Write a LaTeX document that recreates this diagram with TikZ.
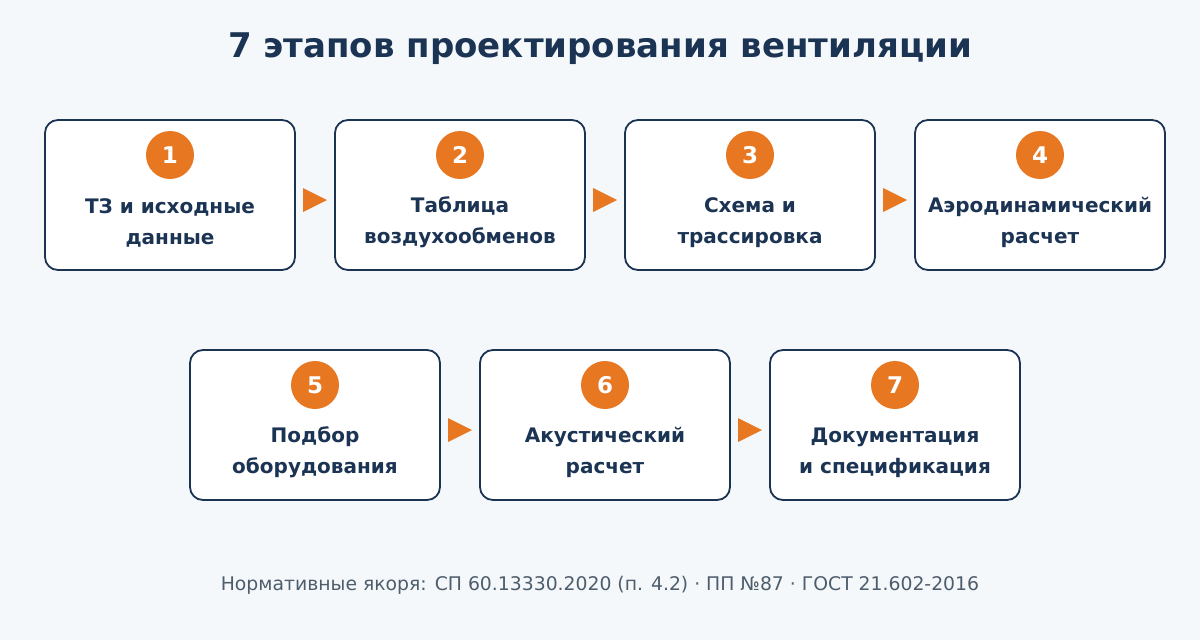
\documentclass[tikz,border=0pt]{standalone}
\usepackage{fontspec}
\setmainfont{DejaVu Sans}
\usetikzlibrary{calc}
\definecolor{bg}{HTML}{F5F8FB}
\definecolor{navy}{HTML}{1C3453}
\definecolor{accent}{HTML}{E87722}
\definecolor{foot}{HTML}{4E5D6C}
\tikzset{
  stage/.style={draw=navy, line width=1.8, fill=white, rounded corners=13,
    minimum width=250, minimum height=150, inner sep=0, outer sep=0},
  badge/.style={circle, fill=accent, minimum size=48, inner sep=0,
    text=white, font=\bfseries\fontsize{23}{23}\selectfont},
  label/.style={align=center, text=navy, font=\bfseries\fontsize{20}{31}\selectfont},
  tri/.style={fill=accent},
}
\newcommand{\stagebox}[5]{%
  \node[stage] (b#1) at (#2,#3) {};
  \node[badge] (n#1) at (#2,#3-40) {#1};
  \node[label] (t#1) at (#2,#3+27.5) {#4\\#5};
}
\newcommand{\tri}[2]{%
  \fill[tri] ($(b#1.east)!0.5!(b#2.west)+(-12,-7)$) -- ++(24,12) -- ++(-24,12) -- cycle;
}
\begin{document}
\begin{tikzpicture}[x=1pt,y=-1pt]
\fill[bg] (0,0) rectangle (1200,640);
\useasboundingbox (0,0) rectangle (1200,640);
\node[text=navy, font=\bfseries\fontsize{34}{34}\selectfont] (title) at (600,49) {7 этапов проектирования вентиляции};
\stagebox{1}{170}{195}{ТЗ и исходные}{данные}
\stagebox{2}{460}{195}{Таблица}{воздухообменов}
\stagebox{3}{750}{195}{Схема и}{трассировка}
\stagebox{4}{1040}{195}{Аэродинамический}{расчет}
\stagebox{5}{315}{425}{Подбор}{оборудования}
\stagebox{6}{605}{425}{Акустический}{расчет}
\stagebox{7}{895}{425}{Документация}{и спецификация}
\tri{1}{2}\tri{2}{3}\tri{3}{4}\tri{5}{6}\tri{6}{7}
\node[text=foot, font=\fontsize{18.8}{18.8}\selectfont] (footer) at (600,585) {Нормативные якоря: СП 60.13330.2020 (п. 4.2) · ПП №87 · ГОСТ 21.602-2016};
\end{tikzpicture}
\end{document}
